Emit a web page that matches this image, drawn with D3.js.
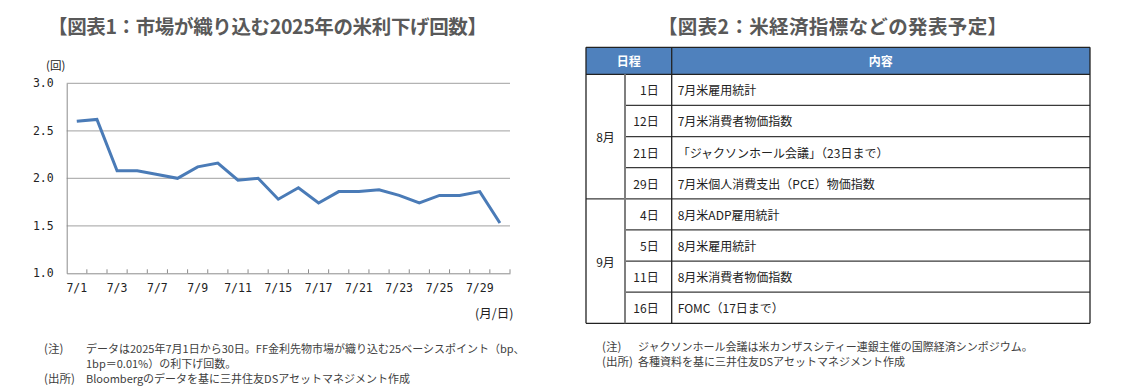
<!DOCTYPE html>
<html><head><meta charset="utf-8">
<script src="https://cdn.jsdelivr.net/npm/d3@7"></script>
<style>
html,body{margin:0;padding:0;background:#fff;}
svg{display:block;}
</style></head>
<body>
<svg id="c" width="1125" height="392"></svg>
<script>
// ---- data ----
const categories = ["7/1","7/2","7/3","7/4","7/7","7/8","7/9","7/10","7/11","7/14","7/15","7/16","7/17","7/18","7/21","7/22","7/23","7/24","7/25","7/28","7/29","7/30"];
const cutCounts = [2.60,2.62,2.08,2.08,2.04,2.00,2.12,2.16,1.98,2.00,1.78,1.90,1.74,1.86,1.86,1.88,1.82,1.74,1.82,1.82,1.86,1.53];
const yTickValues = [1.0,1.5,2.0,2.5,3.0];
const xTickLabels = ["7/1","7/3","7/7","7/9","7/11","7/15","7/17","7/21","7/23","7/25","7/29"];
const title1 = "【図表1：市場が織り込む2025年の米利下げ回数】";
const title2 = "【図表2：米経済指標などの発表予定】";
const yUnit = "(回)";
const xUnit = "(月/日)";
const notes1 = [["(注)","データは2025年7月1日から30日。FF金利先物市場が織り込む25ベーシスポイント（bp、"],["","1bp＝0.01%）の利下げ回数。"],["(出所)","Bloombergのデータを基に三井住友DSアセットマネジメント作成"]];
const notes2 = [["(注)","ジャクソンホール会議は米カンザスシティー連銀主催の国際経済シンポジウム。"],["(出所)","各種資料を基に三井住友DSアセットマネジメント作成"]];
const tableHeaders = ["日程","内容"];
const tableMonths = ["8月","9月"];
const rowMonths = ["8月","8月","8月","8月","9月","9月","9月","9月"];
const rowDays = ["1日","12日","21日","29日","4日","5日","11日","16日"];
const rowEvents = ["7月米雇用統計","7月米消費者物価指数","「ジャクソンホール会議」（23日まで）","7月米個人消費支出（PCE）物価指数","8月米ADP雇用統計","8月米雇用統計","8月米消費者物価指数","FOMC（17日まで）"];

// ---- render ----
const svg = d3.select("#c");
const JP = "'Noto Sans CJK JP','Noto Sans',sans-serif";
const MONO = "'DejaVu Sans Mono','Liberation Mono',monospace";
svg.append("rect").attr("width",1125).attr("height",392).attr("fill","#fff");

// titles
svg.append("text").attr("x",48).attr("y",25).attr("dominant-baseline","central")
  .attr("textLength",439).attr("lengthAdjust","spacing")
  .attr("font-family",JP).attr("font-weight","bold").attr("font-size",19.5).attr("fill","#595959").text(title1);
svg.append("text").attr("x",658).attr("y",25).attr("dominant-baseline","central")
  .attr("textLength",349).attr("lengthAdjust","spacing")
  .attr("font-family",JP).attr("font-weight","bold").attr("font-size",19.5).attr("fill","#595959").text(title2);

// chart
const L = 66.7, R = 510, T = 83.3, B = 273.3;
const x = d3.scaleBand().domain(categories).range([L,R]);
const y = d3.scaleLinear().domain([1,3]).range([B,T]);
const g = svg.append("g");

// gridlines
g.selectAll("line.grid").data(yTickValues.filter(v=>v>1)).join("line")
  .attr("x1",L).attr("x2",R).attr("y1",d=>y(d)).attr("y2",d=>y(d))
  .attr("stroke","#b3b3b3").attr("stroke-width",1.3);

// y axis
const ya = g.append("g").attr("transform",`translate(${L},0)`)
  .call(d3.axisLeft(y).tickValues(yTickValues).tickSize(0).tickPadding(13).tickFormat(d3.format(".1f")));
ya.select(".domain").attr("stroke","#8c8c8c").attr("stroke-width",1);
ya.selectAll("text").attr("font-family",MONO).attr("font-size",11.5).attr("fill","#222");

// x axis
const xa = g.append("g").attr("transform",`translate(0,${B})`)
  .call(d3.axisBottom(x).tickValues(xTickLabels).tickSize(0).tickPadding(11));
xa.select(".domain").attr("stroke","#8c8c8c").attr("stroke-width",1);
xa.selectAll("text").attr("font-family",MONO).attr("font-size",11.5).attr("fill","#222");
// category boundary ticks (inward)
const edges = categories.map(c=>x(c)).concat([R]).slice(1);
g.selectAll("line.xt").data(edges).join("line")
  .attr("x1",d=>d).attr("x2",d=>d).attr("y1",B).attr("y2",B-4)
  .attr("stroke","#8c8c8c").attr("stroke-width",1);

// line
const line = d3.line().x((d,i)=>x(categories[i])+x.bandwidth()/2).y(d=>y(d));
g.append("path").datum(cutCounts).attr("d",line).attr("fill","none")
  .attr("stroke","#4a7bb7").attr("stroke-width",3).attr("stroke-linejoin","miter");

// units
svg.append("text").attr("x",46).attr("y",65).attr("dominant-baseline","central")
  .attr("font-family",JP).attr("font-size",11.5).attr("fill","#222").text(yUnit);
svg.append("text").attr("x",475).attr("y",312).attr("dominant-baseline","central")
  .attr("font-family",JP).attr("font-size",12.5).attr("fill","#222").text(xUnit);

// notes 1
const n1y = [348,363,378];
notes1.forEach((n,i)=>{
  svg.append("text").attr("x",44).attr("y",n1y[i]).attr("dominant-baseline","central")
    .attr("font-family",JP).attr("font-size",11.5).attr("fill","#404040").text(n[0]);
  svg.append("text").attr("x",86).attr("y",n1y[i]).attr("dominant-baseline","central")
    .attr("font-family",JP).attr("font-size",11).attr("fill","#404040").text(n[1]);
});
// notes 2
const n2y = [346,361];
notes2.forEach((n,i)=>{
  svg.append("text").attr("x",602).attr("y",n2y[i]).attr("dominant-baseline","central")
    .attr("font-family",JP).attr("font-size",11.5).attr("fill","#404040").text(n[0]);
  svg.append("text").attr("x",638).attr("y",n2y[i]).attr("dominant-baseline","central")
    .attr("font-family",JP).attr("font-size",11).attr("fill","#404040").text(n[1]);
});

// table
const colX = [586,625,671.7,1090];
const headTop = 47.3, headBot = 74.3, tabBot = 323.3;
const ry = d3.scaleLinear().domain([0,rowDays.length]).range([headBot,tabBot]);
const tg = svg.append("g");
tg.append("rect").attr("x",colX[0]).attr("y",headTop).attr("width",colX[3]-colX[0]).attr("height",headBot-headTop).attr("fill","#4f81bd");
tg.append("text").attr("x",(colX[0]+colX[2])/2).attr("y",(headTop+headBot)/2).attr("text-anchor","middle").attr("dominant-baseline","central")
  .attr("font-family",JP).attr("font-weight","bold").attr("font-size",12).attr("fill","#fff").text(tableHeaders[0]);
tg.append("text").attr("x",(colX[2]+colX[3])/2).attr("y",(headTop+headBot)/2).attr("text-anchor","middle").attr("dominant-baseline","central")
  .attr("font-family",JP).attr("font-weight","bold").attr("font-size",12).attr("fill","#fff").text(tableHeaders[1]);

// month cells
tableMonths.forEach(m=>{
  const idx = rowMonths.map((v,i)=>v===m?i:-1).filter(i=>i>=0);
  const y0 = ry(d3.min(idx)), y1 = ry(d3.max(idx)+1);
  tg.append("text").attr("x",(colX[0]+colX[1])/2).attr("y",(y0+y1)/2).attr("text-anchor","middle").attr("dominant-baseline","central")
    .attr("font-family",JP).attr("font-size",12).attr("fill","#222").text(m);
});
rowDays.forEach((d,i)=>{
  const cy = (ry(i)+ry(i+1))/2;
  tg.append("text").attr("x",colX[2]-13).attr("y",cy).attr("text-anchor","end").attr("dominant-baseline","central")
    .attr("font-family",JP).attr("font-size",12).attr("fill","#222").text(d);
  tg.append("text").attr("x",colX[2]+6).attr("y",cy).attr("dominant-baseline","central")
    .attr("font-family",JP).attr("font-size",12).attr("fill","#222").text(rowEvents[i]);
});
// horizontal lines
const stroke = "#3a3a3a";
for(let i=1;i<rowDays.length;i++){
  const boundary = rowMonths[i]!==rowMonths[i-1];
  tg.append("line").attr("x1",boundary?colX[0]:colX[1]).attr("x2",colX[3]).attr("y1",ry(i)).attr("y2",ry(i))
    .attr("stroke",stroke).attr("stroke-width",1.2);
}
[headTop,headBot,tabBot].forEach(v=>{
  tg.append("line").attr("x1",colX[0]).attr("x2",colX[3]).attr("y1",v).attr("y2",v).attr("stroke","#222").attr("stroke-width",1.3);
});
// vertical lines
tg.append("line").attr("x1",colX[0]).attr("x2",colX[0]).attr("y1",headTop).attr("y2",tabBot).attr("stroke","#222").attr("stroke-width",1.3);
tg.append("line").attr("x1",colX[3]).attr("x2",colX[3]).attr("y1",headTop).attr("y2",tabBot).attr("stroke","#222").attr("stroke-width",1.3);
tg.append("line").attr("x1",colX[1]).attr("x2",colX[1]).attr("y1",headBot).attr("y2",tabBot).attr("stroke","#7f7f7f").attr("stroke-width",2);
tg.append("line").attr("x1",colX[2]).attr("x2",colX[2]).attr("y1",headTop).attr("y2",tabBot).attr("stroke","#222").attr("stroke-width",1.3);
</script>
</body></html>
